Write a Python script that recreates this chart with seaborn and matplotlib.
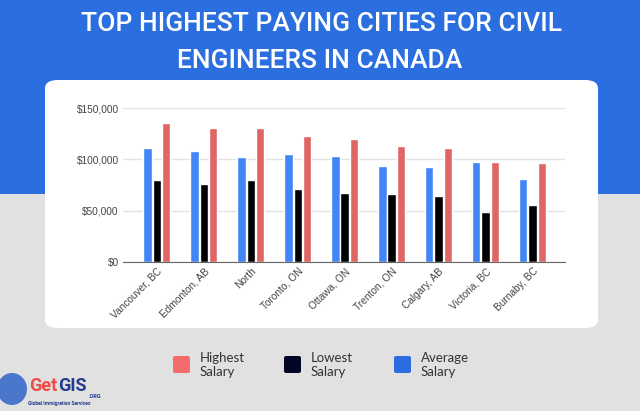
import pandas as pd
import numpy as np
import matplotlib.pyplot as plt
import seaborn as sns
from matplotlib.patches import FancyBboxPatch, Rectangle, Ellipse
from matplotlib.ticker import FuncFormatter

# =============================================
# data
cities = ["Vancouver, BC", "Edmonton, AB", "North", "Toronto, ON", "Ottawa, ON",
          "Trenton, ON", "Calgary, AB", "Victoria, BC", "Burnaby, BC"]
average_salary = [111300, 108000, 102200, 104800, 103500, 93200, 92500, 97700, 80500]
lowest_salary = [79800, 75600, 79800, 70800, 67500, 65900, 64600, 48400, 55500]
highest_salary = [135600, 130200, 130800, 123000, 119800, 112600, 111300, 97700, 96700]
y_ticks = [0, 50000, 100000, 150000]

series_order = ["Average Salary", "Lowest Salary", "Highest Salary"]
bar_palette = {"Average Salary": "#4285F4", "Lowest Salary": "#000000", "Highest Salary": "#E06666"}

legend_labels = ["Highest\nSalary", "Lowest\nSalary", "Average\nSalary"]
legend_colors = ["#F56B6B", "#020624", "#2B6DE0"]

title = "TOP HIGHEST PAYING CITIES FOR CIVIL\nENGINEERS IN CANADA"

df = pd.DataFrame({
    'city': cities * 3,
    'series': ["Average Salary"] * 9 + ["Lowest Salary"] * 9 + ["Highest Salary"] * 9,
    'salary': average_salary + lowest_salary + highest_salary,
})

# =============================================
sns.set_style("white")
plt.rcParams['font.family'] = ['Liberation Sans', 'DejaVu Sans']

W, H = 640, 411
fig = plt.figure(figsize=(W / 100, H / 100), dpi=100)
fig.patch.set_facecolor('#E1E1E1')


def px(x, y):
    # pixel coords (top-left origin) -> figure fraction
    return x / W, 1 - y / H


# blue header band
fig.patches.append(Rectangle((0, 1 - 194 / H), 1, 194 / H, transform=fig.transFigure,
                             facecolor='#2A6EE0', edgecolor='none', zorder=0))
# white card
cx, cy = px(45, 328)
fig.patches.append(FancyBboxPatch((cx, cy), (598 - 45) / W, (328 - 80) / H,
                                  boxstyle="round,pad=0,rounding_size=0.02",
                                  transform=fig.transFigure, facecolor='white',
                                  edgecolor='none', zorder=1))

# title
fig.text(0.502, 1 - 24 / H, title.split('\n')[0], ha='center', va='center', color='white',
         fontsize=19, family='Roboto', weight='medium')
fig.text(0.5, 1 - 61 / H, title.split('\n')[1], ha='center', va='center', color='white',
         fontsize=19, family='Roboto', weight='medium')

# =============================================
# bar chart
ax = fig.add_axes([123 / W, 1 - 262 / H, (565 - 123) / W, (262 - 108) / H])
ax.set_facecolor('white')
ax.set_zorder(2)

sns.barplot(data=df, x='city', y='salary', hue='series', hue_order=series_order,
            palette=bar_palette, width=0.6, gap=0.1, saturation=1, ax=ax, legend=False)

ax.set(xlim=[-0.72, 8.69], ylim=[0, 150000])
ax.set_yticks(y_ticks)
ax.yaxis.set_major_formatter(FuncFormatter(lambda v, p: '${:,.0f}'.format(v)))
ax.grid(axis='y', color='#E4E4E4', linewidth=1)
ax.set_axisbelow(True)
for s in ['top', 'right', 'left']:
    ax.spines[s].set_visible(False)
ax.spines['bottom'].set_color('#666666')
ax.spines['bottom'].set_zorder(5)
ax.set_xlabel(None)
ax.set_ylabel(None)
ax.tick_params(axis='y', length=0, labelsize=7.3, labelcolor='#444444', pad=3)
ax.tick_params(axis='x', length=0, labelsize=7.3, labelcolor='#444444', pad=3)
plt.setp(ax.get_xticklabels(), rotation=45, ha='right', rotation_mode='anchor')

# =============================================
# legend drawn below the card
legend_x = [173, 284, 394]
for lx, lab, col in zip(legend_x, legend_labels, legend_colors):
    bx, by = px(lx, 373)
    fig.patches.append(FancyBboxPatch((bx, by), 17 / W, 17 / H,
                                      boxstyle="round,pad=0,rounding_size=0.004",
                                      transform=fig.transFigure, facecolor=col,
                                      edgecolor='none', zorder=3))
    tx, ty = px(lx + 27, 365)
    fig.text(tx, ty, lab, ha='left', va='center', fontsize=9.5, color='#333333',
             family='Lato', linespacing=1.25)

# logo
fig.patches.append(Ellipse(px(12, 389), 30 / W, 32 / H, transform=fig.transFigure,
                           facecolor='#2F63C9', edgecolor='none', alpha=0.85, zorder=3))
fig.text(*px(29, 386), "Get", ha='left', va='center', fontsize=13, color='#EF4B4B',
         weight='bold', family='Roboto')
fig.text(*px(58, 386), "GIS", ha='left', va='center', fontsize=13, color='#243C8F',
         weight='bold', family='Roboto')
fig.text(*px(89, 396), ".ORG", ha='left', va='center', fontsize=4, color='#243C8F',
         weight='bold', family='Roboto')
fig.text(*px(28, 403), "Global Immigration Services", ha='left', va='center', fontsize=3.6,
         color='#243C8F', weight='bold', family='Roboto')

plt.savefig('out.png', dpi=100, facecolor=fig.get_facecolor())
